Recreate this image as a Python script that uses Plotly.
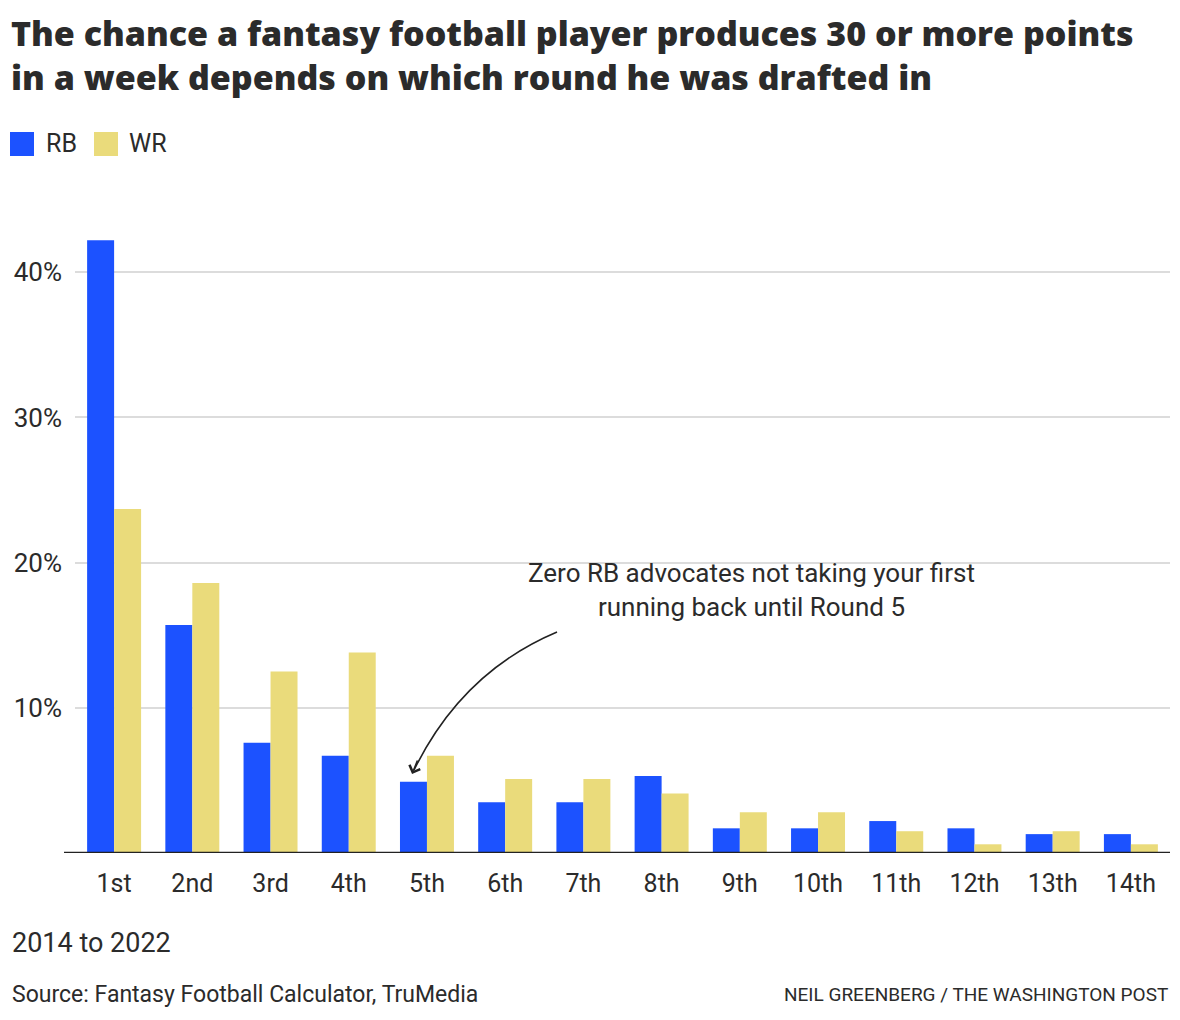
import plotly.graph_objects as go

rounds = ["1st", "2nd", "3rd", "4th", "5th", "6th", "7th", "8th", "9th", "10th", "11th", "12th", "13th", "14th"]
rb_pct = [42.2, 15.7, 7.6, 6.7, 4.9, 3.5, 3.5, 5.3, 1.7, 1.7, 2.2, 1.7, 1.3, 1.3]
wr_pct = [23.7, 18.6, 12.5, 13.8, 6.7, 5.1, 5.1, 4.1, 2.8, 2.8, 1.5, 0.6, 1.5, 0.6]
y_ticks = [10, 20, 30, 40]
y_tick_labels = ["10%", "20%", "30%", "40%"]

RB_COLOR = "#1c52ff"
WR_COLOR = "#eadb7b"
TEXT = "#2b2b2b"
FONT = "Roboto"
TITLE_FONT = "Open Sans"

W, H = 1180, 1020
L, R, T, B = 75, 10, 230, 167
PW, PH = W - L - R, H - T - B


def px(x):
    return (x - L) / PW


def py(y):
    return (H - B - y) / PH


xs = list(range(len(rounds)))

fig = go.Figure()
fig.add_trace(go.Bar(x=xs, y=rb_pct, name="RB", marker=dict(color=RB_COLOR, line=dict(width=0))))
fig.add_trace(go.Bar(x=xs, y=wr_pct, name="WR", marker=dict(color=WR_COLOR, line=dict(width=0))))

fig.update_layout(
    width=W, height=H,
    margin=dict(l=L, r=R, t=T, b=B, pad=0),
    plot_bgcolor="white", paper_bgcolor="white",
    barmode="group", bargap=0.31, bargroupgap=0,
    showlegend=False,
    font=dict(family=FONT, color=TEXT),
)

fig.update_xaxes(
    range=[-0.5, len(rounds) - 0.5],
    tickmode="array", tickvals=xs, ticktext=rounds,
    tickfont=dict(size=25, color=TEXT, family=FONT),
    showgrid=False, zeroline=False, showline=False, ticks="",
    ticklabelstandoff=13, fixedrange=True,
)
fig.update_yaxes(
    range=[0, (H - B - T) / 14.52],
    tickmode="array", tickvals=y_ticks, ticktext=y_tick_labels,
    tickfont=dict(size=26, color=TEXT, family=FONT),
    showgrid=True, gridcolor="#dcdcdc", gridwidth=1.5,
    zeroline=False, showline=False, ticks="",
    ticklabelstandoff=12, fixedrange=True,
)

shapes = []
# baseline
shapes.append(dict(type="line", xref="paper", yref="y", x0=px(64), x1=1, y0=0, y1=0,
                   line=dict(color="#222222", width=2.5)))
# legend swatches
shapes.append(dict(type="rect", xref="paper", yref="paper", x0=px(10), x1=px(34), y0=py(156), y1=py(132),
                   fillcolor=RB_COLOR, line=dict(width=0)))
shapes.append(dict(type="rect", xref="paper", yref="paper", x0=px(94), x1=px(118), y0=py(156), y1=py(132),
                   fillcolor=WR_COLOR, line=dict(width=0)))


def dx(p):
    return (p - 114) / 78.23


def dy(p):
    return (853 - p) / 14.52


# curved arrow
p0 = (dx(557), dy(632))
c = (dx(462), dy(672))
p2 = (dx(414), dy(770))
shapes.append(dict(type="path", xref="x", yref="y",
                   path=f"M {p0[0]},{p0[1]} Q {c[0]},{c[1]} {p2[0]},{p2[1]}",
                   line=dict(color="#222222", width=1.6)))
fig.update_layout(shapes=shapes)

ann = []
ann.append(dict(x=px(9), y=py(8), xref="paper", yref="paper", xanchor="left", yanchor="top",
                text="The chance a fantasy football player produces 30 or more points<br>in a week depends on which round he was drafted in",
                align="left", showarrow=False,
                font=dict(size=34, color=TEXT, family=TITLE_FONT, weight=800)))
ann.append(dict(x=px(44), y=py(144), xref="paper", yref="paper", xanchor="left", yanchor="middle",
                text="RB", showarrow=False, font=dict(size=25, color=TEXT, family=FONT)))
ann.append(dict(x=px(127), y=py(144), xref="paper", yref="paper", xanchor="left", yanchor="middle",
                text="WR", showarrow=False, font=dict(size=25, color=TEXT, family=FONT)))
# arrowhead
ann.append(dict(x=dx(412), y=dy(774), xref="x", yref="y", ax=6, ay=-15, axref="pixel", ayref="pixel",
                text="", showarrow=True, arrowhead=4, arrowsize=1.4, arrowwidth=1.6, arrowcolor="#222222"))
ann.append(dict(x=dx(752), y=dy(590), xref="x", yref="y", xanchor="center", yanchor="middle",
                text="Zero RB advocates not taking your first<br>running back until Round 5", align="center",
                showarrow=False, font=dict(size=26, color=TEXT, family=FONT)))
ann.append(dict(x=px(10), y=py(943), xref="paper", yref="paper", xanchor="left", yanchor="middle",
                text="2014 to 2022", showarrow=False, font=dict(size=27, color=TEXT, family=FONT)))
ann.append(dict(x=px(10), y=py(994), xref="paper", yref="paper", xanchor="left", yanchor="middle",
                text="Source: Fantasy Football Calculator, TruMedia", showarrow=False,
                font=dict(size=23, color=TEXT, family=FONT)))
ann.append(dict(x=px(1170), y=py(994), xref="paper", yref="paper", xanchor="right", yanchor="middle",
                text="NEIL GREENBERG / THE WASHINGTON POST", showarrow=False,
                font=dict(size=19, color=TEXT, family=FONT)))
fig.update_layout(annotations=ann)

fig.write_html("out.html")
